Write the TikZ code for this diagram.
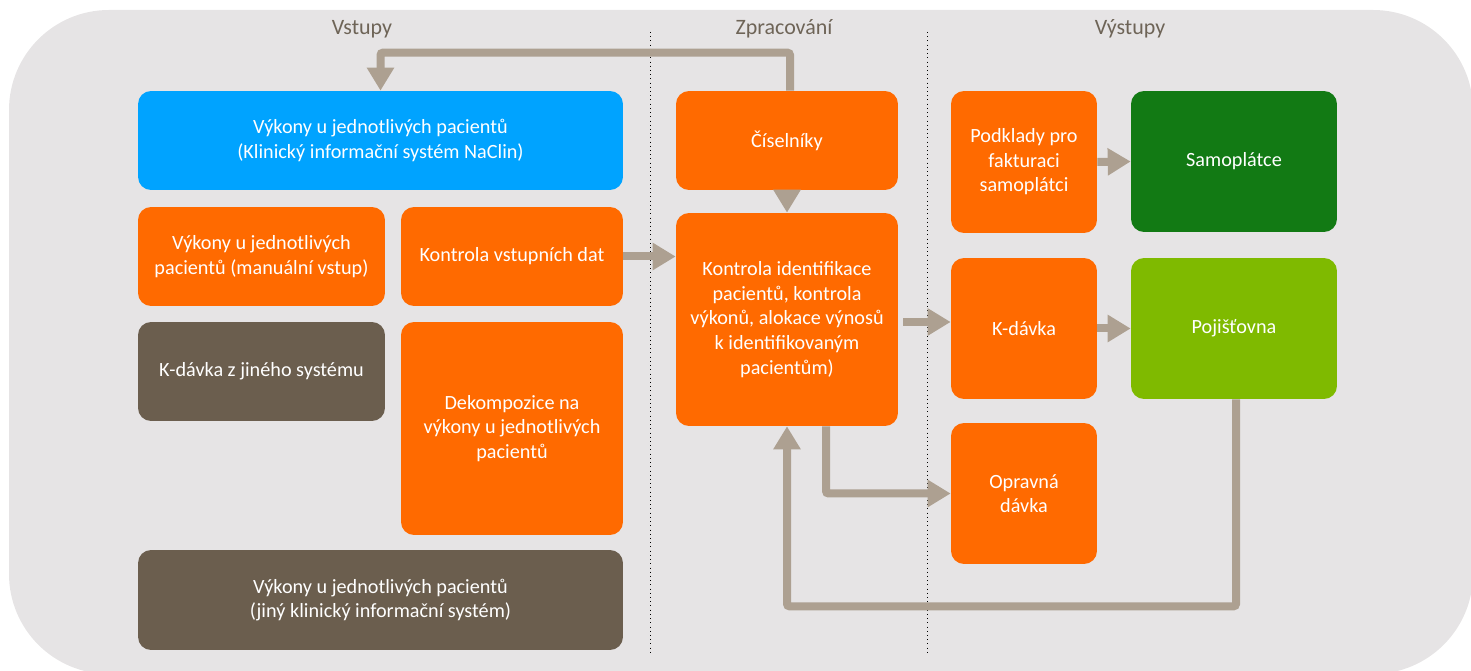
\documentclass[tikz,border=0pt]{standalone}
\usepackage{fontspec}
\setmainfont{Carlito}
\usetikzlibrary{arrows.meta}

\definecolor{pozadi}{HTML}{E6E4E5}
\definecolor{sipkab}{HTML}{ADA091}
\definecolor{oranz}{HTML}{FF6A00}
\definecolor{modra}{HTML}{00A3FF}
\definecolor{hneda}{HTML}{6B5E4E}
\definecolor{zelena}{HTML}{127A14}
\definecolor{svzelena}{HTML}{7FBA00}
\definecolor{hlavab}{HTML}{6E6457}

\begin{document}
\begin{tikzpicture}[x=0.02cm,y=-0.02cm,
        box/.style={rounded corners=0.26cm, text=white, align=center,
                        inner sep=0pt, font=\fontsize{11.5}{14}\selectfont},
        sipka/.style={draw=sipkab, line width=0.16cm, rounded corners=0.05cm,
                        -{Triangle[width=0.52cm,length=0.46cm]}},
        hlava/.style={text=hlavab, font=\fontsize{12.5}{15}\selectfont}]
    \useasboundingbox (0,0) rectangle (1471,671);
    \clip (0,0) rectangle (1471,671);
    \fill[pozadi, rounded corners=2cm] (9,10) rectangle (1473,674);

    \draw[dotted, thin] (650,32) -- (650,655);
    \draw[dotted, thin] (927,32) -- (927,655);

    \node[hlava] (vstupy) at (362,29) {Vstupy};
    \node[hlava] (zprac) at (784,29) {Zpracování};
    \node[hlava] (vystupy) at (1130,29) {Výstupy};

    % vstupy
    \node[box, fill=modra, minimum width=9.7cm, minimum height=1.98cm]
        (vykNaclin) at (380.5,140.5) {Výkony u jednotlivých pacientů\\(Klinický informační systém NaClin)};
    \node[box, fill=oranz, minimum width=4.94cm, minimum height=1.98cm]
        (vykManual) at (261.5,256.5) {Výkony u jednotlivých\\pacientů (manuální vstup)};
    \node[box, fill=oranz, minimum width=4.44cm, minimum height=1.98cm]
        (kontrolaVst) at (512,256.5) {Kontrola vstupních dat};
    \node[box, fill=hneda, minimum width=4.94cm, minimum height=1.98cm]
        (kdavkaJiny) at (261.5,371.5) {K-dávka z jiného systému};
    \node[box, fill=oranz, minimum width=4.44cm, minimum height=4.26cm]
        (dekomp) at (512,428.5) {Dekompozice na\\výkony u jednotlivých\\pacientů};
    \node[box, fill=hneda, minimum width=9.7cm, minimum height=2cm]
        (vykJiny) at (380.5,600) {Výkony u jednotlivých pacientů\\(jiný klinický informační systém)};

    % zpracovani
    \node[box, fill=oranz, minimum width=4.44cm, minimum height=1.98cm]
        (ciselniky) at (787,140.5) {Číselníky};
    \node[box, fill=oranz, minimum width=4.44cm, minimum height=4.26cm]
        (kontrolaId) at (787,319.5) {Kontrola identifikace\\pacientů, kontrola\\výkonů, alokace výnosů\\k identifikovaným\\pacientům)};

    % vystupy
    \node[box, fill=oranz, minimum width=2.92cm, minimum height=2.84cm]
        (podklady) at (1024,162) {Podklady pro\\fakturaci\\samoplátci};
    \node[box, fill=zelena, minimum width=4.12cm, minimum height=2.82cm]
        (samoplatce) at (1234,161.5) {Samoplátce};
    \node[box, fill=oranz, minimum width=2.92cm, minimum height=2.82cm]
        (kdavka) at (1024,328.5) {K-dávka};
    \node[box, fill=svzelena, minimum width=4.12cm, minimum height=2.82cm]
        (pojistovna) at (1234,328.5) {Pojišťovna};
    \node[box, fill=oranz, minimum width=2.92cm, minimum height=2.82cm]
        (opravna) at (1024,493.5) {Opravná\\dávka};

    \draw[sipka] ([xshift=0.06cm]ciselniky.north) -- ++(0,-38) -| (vykNaclin.north);
    \draw[sipka] (ciselniky.south) -- (kontrolaId.north);
    \draw[sipka] (kontrolaVst.east) -- (kontrolaVst.east -| kontrolaId.west);
    \draw[sipka] ([xshift=0.1cm,yshift=-0.05cm]kontrolaId.east) -- ([yshift=-0.05cm]kontrolaId.east -| kdavka.west);
    \draw[sipka] (kdavka.east) -- (pojistovna.west);
    \draw[sipka] (podklady.east) -- (samoplatce.west);
    \draw[sipka] ([xshift=0.78cm]kontrolaId.south) |- (opravna.west);
    \draw[sipka] ([xshift=0.04cm]pojistovna.south) -- ++(0,207) -| (kontrolaId.south);
\end{tikzpicture}
\end{document}
